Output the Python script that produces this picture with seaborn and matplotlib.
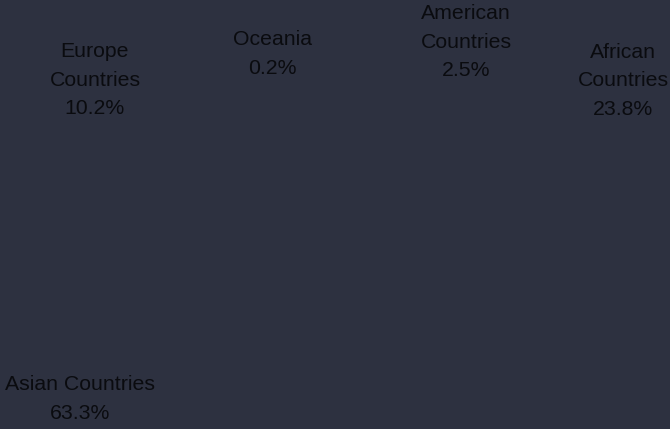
import matplotlib
matplotlib.use("Agg")
import matplotlib.pyplot as plt
import seaborn as sns

# Data
regions = ["Asian Countries", "African\nCountries", "American\nCountries", "Oceania", "Europe\nCountries"]
shares = [63.3, 23.8, 2.5, 0.2, 10.2]
# label anchor points (pixels, from top-left) as seen in the reference
label_x = [80, 623, 466, 272, 95]
label_y = [399, 81, 42, 54, 80]

BG = "#2d3140"
sns.set_theme(style="white")
plt.rcParams["font.family"] = ["Liberation Sans", "DejaVu Sans"]

W, H = 670, 429
fig = plt.figure(figsize=(W / 100, H / 100), dpi=100, facecolor=BG)
ax = fig.add_axes([0, 0, 1, 1])
ax.set_facecolor(BG)
# wedges are drawn in the background colour (invisible, as in the reference)
ax.pie(shares, colors=[BG] * len(shares), startangle=90, counterclock=True,
       wedgeprops=dict(linewidth=0, edgecolor=BG))
ax.set_axis_off()

for name, val, x, y in zip(regions, shares, label_x, label_y):
    fig.text(x / W, 1 - y / H, f"{name}\n{val:.1f}%", ha="center", va="center",
             multialignment="center", fontsize=15.3, color="#0a0b0f", linespacing=1.66)

fig.savefig("out.png", dpi=100, facecolor=BG)
